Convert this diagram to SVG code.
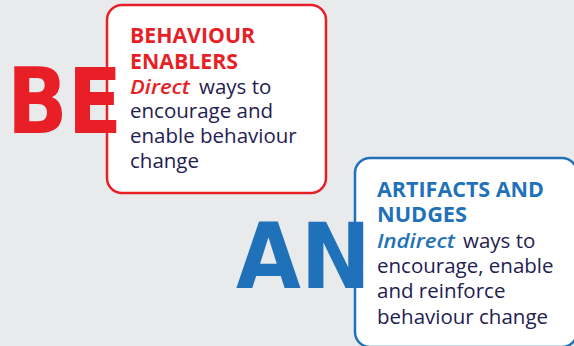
<svg xmlns="http://www.w3.org/2000/svg" width="574" height="346" viewBox="0 0 574 346">
<style>
.bg{fill:#e9eaec}
.box{fill:#ffffff;stroke-width:2.5}
.big{font-family:"DejaVu Sans",sans-serif;font-weight:bold;font-size:91px}
.head{font-family:"Open Sans","Liberation Sans",sans-serif;font-weight:bold;font-size:20.5px}
.body{font-family:"Open Sans","Liberation Sans",sans-serif;font-size:20.5px;fill:#1f2152}
.it{font-style:italic;font-weight:600}
.red{fill:#e81f27}
.blue{fill:#1f72b9}
</style>
<rect class="bg" x="0" y="0" width="574" height="346"/>
<g id="behaviour-enablers">
<rect class="box" x="107" y="5" width="219" height="188" rx="15" stroke="#e81f27"/>
<text class="big red" x="7" y="133" textLength="115" lengthAdjust="spacingAndGlyphs">BE</text>
<text class="head red" x="130" y="43" textLength="125" lengthAdjust="spacingAndGlyphs">BEHAVIOUR</text>
<text class="head red" x="130" y="69" textLength="108" lengthAdjust="spacingAndGlyphs">ENABLERS</text>
<text class="body it red" x="130" y="94" textLength="60" lengthAdjust="spacingAndGlyphs">Direct</text>
<text class="body" x="199" y="94">ways to</text>
<text class="body" x="130" y="118">encourage and</text>
<text class="body" x="130" y="143">enable behaviour</text>
<text class="body" x="130" y="168">change</text>
</g>
<g id="artifacts-and-nudges">
<rect class="box" x="355" y="158" width="222" height="189" rx="15" stroke="#1f72b9"/>
<text class="big blue" x="236" y="288" textLength="135" lengthAdjust="spacingAndGlyphs">AN</text>
<text class="head blue" x="377" y="197" textLength="167" lengthAdjust="spacingAndGlyphs">ARTIFACTS AND</text>
<text class="head blue" x="377" y="222" textLength="90" lengthAdjust="spacingAndGlyphs">NUDGES</text>
<text class="body it blue" x="377" y="248" textLength="78" lengthAdjust="spacingAndGlyphs">Indirect</text>
<text class="body" x="463" y="248">ways to</text>
<text class="body" x="377" y="273">encourage, enable</text>
<text class="body" x="377" y="298">and reinforce</text>
<text class="body" x="377" y="324">behaviour change</text>
</g>
<g id="connectors"/>
</svg>
